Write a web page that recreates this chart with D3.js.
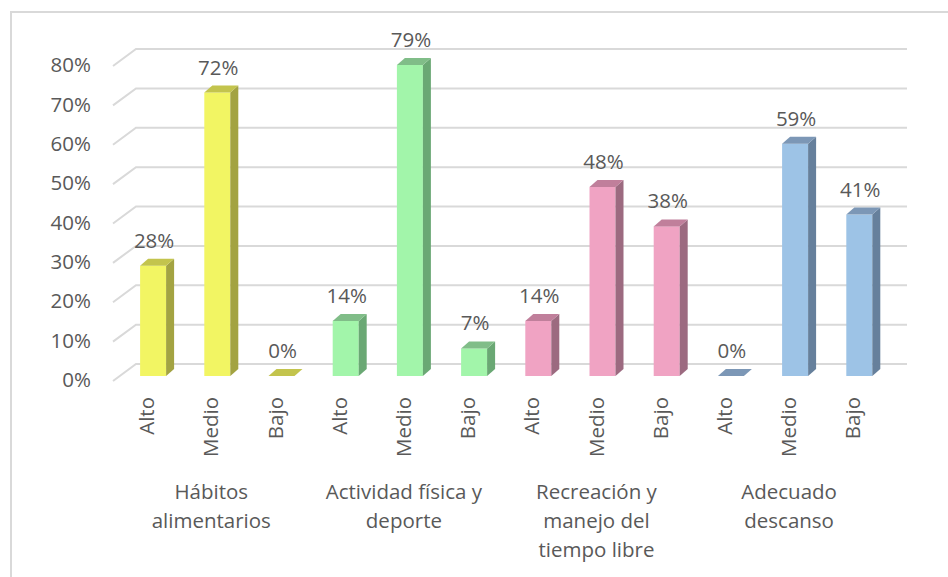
<!DOCTYPE html>
<html><head><meta charset="utf-8">
<script src="https://cdn.jsdelivr.net/npm/d3@7"></script>
<style>html,body{margin:0;padding:0;background:#fff;}svg{display:block;}</style>
</head><body>
<script>
const groups = ["Hábitos alimentarios", "Actividad física y deporte", "Recreación y manejo del tiempo libre", "Adecuado descanso"];
const groupLines = [["Hábitos", "alimentarios"], ["Actividad física y", "deporte"], ["Recreación y", "manejo del", "tiempo libre"], ["Adecuado", "descanso"]];
const levels = ["Alto", "Medio", "Bajo"];
const habitos = [0.28, 0.72, 0.00];
const actividad = [0.14, 0.79, 0.07];
const recreacion = [0.14, 0.48, 0.38];
const descanso = [0.00, 0.59, 0.41];
const yTicks = [0, 0.1, 0.2, 0.3, 0.4, 0.5, 0.6, 0.7, 0.8];

const seriesValues = [habitos, actividad, recreacion, descanso];
const palette = [
  {front: "#f2f563", side: "#a3a342", top: "#c3c44d"},
  {front: "#a2f5aa", side: "#6aa874", top: "#80bd88"},
  {front: "#f0a3c3", side: "#9c6a80", top: "#c07f9b"},
  {front: "#9dc3e6", side: "#66809c", top: "#7c97b6"}
];
const textColor = "#595959";
const fontFamily = "'Open Sans', sans-serif";
const fs = 20.5;

const W = 948, H = 577;
const svg = d3.select("body").append("svg").attr("width", W).attr("height", H)
  .style("font-family", fontFamily);
svg.append("rect").attr("width", W).attr("height", H).attr("fill", "#fff");
svg.append("rect").attr("x", 11).attr("y", 12).attr("width", 960).attr("height", 620)
  .attr("fill", "none").attr("stroke", "#d9d9d9").attr("stroke-width", 2);

const items = [];
groups.forEach((g, gi) => levels.forEach((l, li) => items.push({g, gi, l, li, key: gi + "-" + li, v: seriesValues[gi][li]})));

const x = d3.scaleBand().domain(items.map(d => d.key)).range([121, 891.4]).padding(0);
const y = d3.scaleLinear().domain([0, 0.8]).range([376, 61]);
const bw = 26, dx = 8, dy = 7;
const backOff = 12, frontDrop = 17, diagDx = 23;

// gridlines (back wall + floor diagonal)
const grid = svg.append("g");
yTicks.forEach(t => {
  const yb = y(t) - backOff;
  grid.append("path")
    .attr("d", `M113,${yb + frontDrop}L${113 + diagDx},${yb}L907,${yb}`)
    .attr("fill", "none").attr("stroke", "#d9d9d9").attr("stroke-width", 2);
  grid.append("text").attr("x", 91).attr("y", yb + 16).attr("dy", "0.35em")
    .attr("text-anchor", "end").attr("fill", textColor).attr("font-size", fs)
    .text(d3.format(".0%")(t));
});

// bars
const bars = svg.append("g").selectAll("g").data(items).join("g");
bars.each(function(d) {
  const g = d3.select(this);
  const cx = x(d.key) + x.bandwidth() / 2;
  const x0 = cx - bw / 2, x1 = cx + bw / 2;
  const yt = y(d.v), y0 = y(0);
  const c = palette[d.gi];
  if (y0 - yt > 0.5) {
    g.append("rect").attr("x", x0).attr("y", yt).attr("width", bw).attr("height", y0 - yt).attr("fill", c.front);
    g.append("path").attr("d", `M${x1},${yt}L${x1 + dx},${yt - dy}L${x1 + dx},${y0 - dy}L${x1},${y0}Z`).attr("fill", c.side);
  }
  g.append("path").attr("d", `M${x0},${yt}L${x0 + dx},${yt - dy}L${x1 + dx},${yt - dy}L${x1},${yt}Z`).attr("fill", c.top);
  g.append("text").attr("x", cx + 1).attr("y", yt - 18).attr("text-anchor", "middle")
    .attr("fill", textColor).attr("font-size", fs).text(d3.format(".0%")(d.v));
  g.append("text").attr("transform", `translate(${cx - 6},397) rotate(-90)`)
    .attr("text-anchor", "end").attr("dy", "0.35em")
    .attr("fill", textColor).attr("font-size", fs).text(d.l);
});

// group labels
groupLines.forEach((lines, gi) => {
  const cx = x(gi + "-1") + x.bandwidth() / 2 - 6;
  const t = svg.append("text").attr("text-anchor", "middle").attr("fill", textColor).attr("font-size", fs);
  lines.forEach((ln, i) => {
    t.append("tspan").attr("x", cx).attr("y", 492 + i * 29).attr("dy", "0.35em").text(ln);
  });
});
</script>
</body></html>
